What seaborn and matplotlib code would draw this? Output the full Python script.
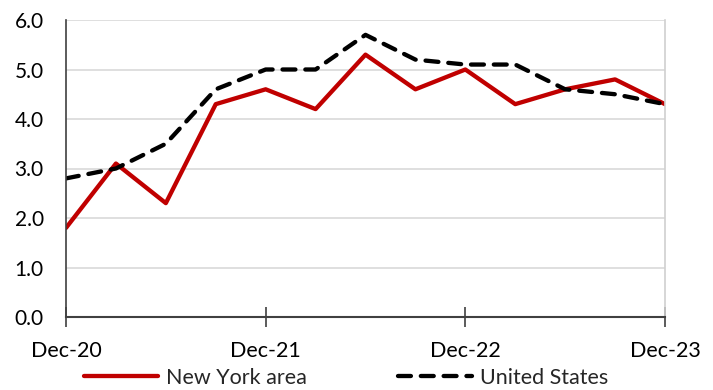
import matplotlib
matplotlib.use("Agg")
import matplotlib.pyplot as plt
import seaborn as sns
import pandas as pd

# Quarterly readings, Dec-20 through Dec-23
quarters = ["Dec-20", "Mar-21", "Jun-21", "Sep-21", "Dec-21", "Mar-22", "Jun-22",
            "Sep-22", "Dec-22", "Mar-23", "Jun-23", "Sep-23", "Dec-23"]
new_york = [1.8, 3.1, 2.3, 4.3, 4.6, 4.2, 5.3, 4.6, 5.0, 4.3, 4.6, 4.8, 4.3]
united_states = [2.8, 3.0, 3.5, 4.6, 5.0, 5.0, 5.7, 5.2, 5.1, 5.1, 4.6, 4.5, 4.3]
tick_labels = ["Dec-20", "Dec-21", "Dec-22", "Dec-23"]

sns.set_theme(style="white")
plt.rcParams["font.family"] = ["Lato", "DejaVu Sans"]

df = pd.DataFrame({"q": range(len(quarters)), "ny": new_york, "us": united_states})

LW = 3.1
DASH = (3.0, 2.3)

fig = plt.figure(figsize=(7.13, 3.9), dpi=100)
ax = fig.add_axes([66 / 713, 1 - 317 / 390, (665 - 66) / 713, (317 - 20) / 390])

sns.lineplot(data=df, x="q", y="ny", ax=ax, color="#C00000", linewidth=LW,
             label="New York area")
sns.lineplot(data=df, x="q", y="us", ax=ax, color="black", linewidth=LW,
             label="United States")
us_line = ax.lines[1]
us_line.set_dashes(DASH)
us_line.set_dash_capstyle("round")

ax.set_xlim(0, len(quarters) - 1)
ax.set_ylim(0, 6)
ax.set_yticks([0, 1, 2, 3, 4, 5, 6])
ax.set_yticklabels([f"{v:.1f}" for v in range(7)])
ax.set_xticks([0, 4, 8, 12])
ax.set_xticklabels(tick_labels)
ax.set_xlabel("")
ax.set_ylabel("")

ax.grid(axis="y", color="#D9D9D9", linewidth=1.2)
ax.set_axisbelow(True)
ax.spines["top"].set_visible(False)
ax.spines["right"].set_color("#D0D0D0")
ax.spines["right"].set_linewidth(1.2)
ax.spines["left"].set_color("#404040")
ax.spines["bottom"].set_color("#404040")
ax.spines["left"].set_linewidth(1.2)
ax.spines["bottom"].set_linewidth(1.5)

ax.tick_params(axis="x", which="major", direction="inout", length=14, width=1.2,
               color="#404040", labelsize=15.5, labelcolor="black", pad=10,
               bottom=True)
ax.tick_params(axis="y", length=0, labelsize=15, labelcolor="black", pad=16)

ax.get_legend().remove()
handles, labels = ax.get_legend_handles_labels()
leg = fig.legend(handles, labels, loc="center left",
                 bbox_to_anchor=(84 / 713, 1 - 378 / 390), ncol=2,
                 frameon=False, fontsize=15.5, handlelength=3.45,
                 handletextpad=0.37, columnspacing=4.2, borderpad=0,
                 borderaxespad=0)
for h in leg.get_lines():
    h.set_linewidth(LW)
leg.get_lines()[1].set_dashes(DASH)
leg.get_lines()[1].set_dash_capstyle("round")

fig.savefig("out.png", dpi=100)
